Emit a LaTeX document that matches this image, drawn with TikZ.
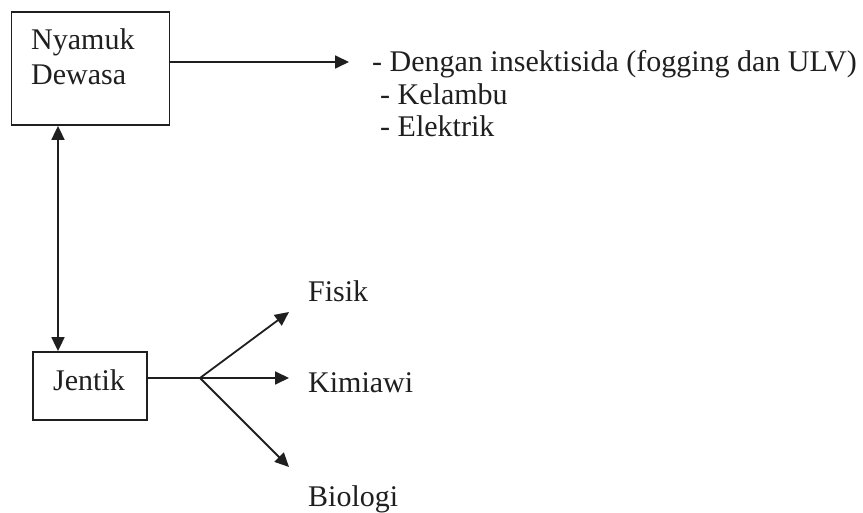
\documentclass[tikz,border=0pt]{standalone}
\usepackage{fontspec}
\setmainfont{Liberation Serif}
\usetikzlibrary{arrows.meta}
\begin{document}
\begin{tikzpicture}[x=1pt,y=-1pt,
  ink/.style={draw=black!88,line width=1.8pt},
  tip/.style={-{Triangle[length=14pt,width=13pt]}},
  box/.style={ink,rectangle,inner sep=0pt},
  lbl/.style={inner sep=0pt,anchor=base west,text=black!88,
    font=\fontsize{30}{35}\selectfont}]
\useasboundingbox (0,0) rectangle (863,513);
\fill[white] (0,0) rectangle (863,513);

% boxes
\node[box,minimum width=158pt,minimum height=113pt] (adult) at (90.5,68.5) {};
\node[box,minimum width=114pt,minimum height=68pt] (larva) at (90,386) {};

% box captions
\node[lbl] (tNyamuk) at (31,50) {Nyamuk};
\node[lbl] (tDewasa) at (31,85) {Dewasa};
\node[lbl] (tJentik) at (53,391) {Jentik};

% control measures for adults
\node[lbl] (m1) at (372,72) {- Dengan insektisida (fogging dan ULV)};
\node[lbl] (m2) at (380,105) {- Kelambu};
\node[lbl] (m3) at (380,137) {- Elektrik};

% control measures for larvae
\node[lbl] (fisik) at (308,302) {Fisik};
\node[lbl] (kimia) at (308,392) {Kimiawi};
\node[lbl] (bio) at (308,506) {Biologi};

% connector ends
\coordinate (mTip) at (349,62);
\coordinate (split) at (200,378);
\coordinate (fTip) at (289,312);
\coordinate (kTip) at (289,378);
\coordinate (bTip) at (289,467);

\draw[ink,tip] (adult.east |- mTip) -- (mTip);
\draw[ink,{Triangle[length=14pt,width=13pt]}-{Triangle[length=14pt,width=13pt]}]
  (adult.south -| 58,0) -- (larva.north -| 58,0);
\draw[ink] (larva.east |- split) -- (split);
\draw[ink,tip] (split) -- (fTip);
\draw[ink,tip] (split) -- (kTip);
\draw[ink,tip] (split) -- (bTip);
\end{tikzpicture}
\end{document}
